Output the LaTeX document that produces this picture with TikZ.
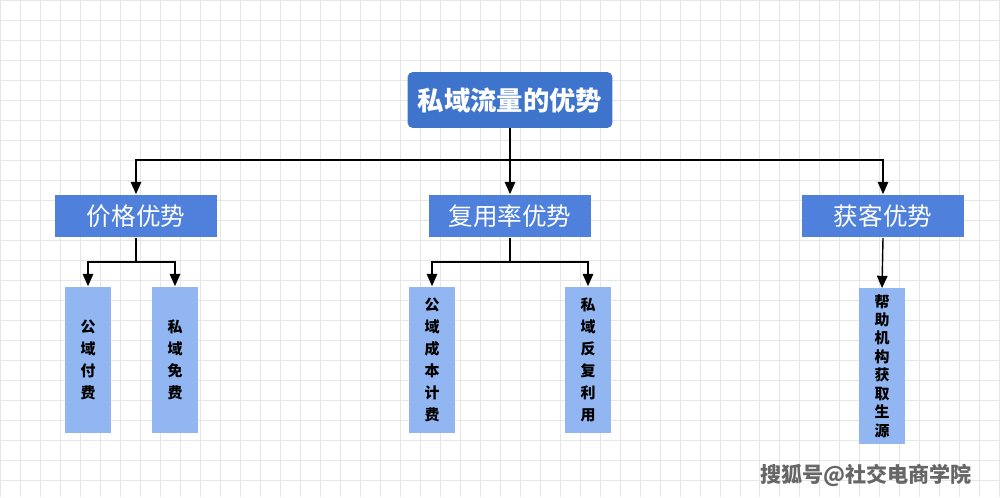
\documentclass[tikz,border=0pt]{standalone}
\usepackage{fontspec}
\setmainfont{Noto Sans CJK SC}
\usetikzlibrary{arrows.meta}
\definecolor{rootblue}{HTML}{3F74CC}
\definecolor{midblue}{HTML}{4F80DC}
\definecolor{leafblue}{HTML}{92B6F2}
\definecolor{gridgray}{HTML}{E6E6E6}
\tikzset{
  rootbox/.style={fill=rootblue, rounded corners=3pt, text=white, font=\bfseries\fontsize{15}{15}\selectfont, minimum width=4.1cm, minimum height=1.12cm},
  midbox/.style={fill=midblue, text=white, font=\fontsize{14}{14}\selectfont, minimum width=3.24cm, minimum height=0.86cm},
  leafbox/.style={fill=leafblue, text=black, font=\bfseries\fontsize{8.5}{12.5}\selectfont, align=center, minimum width=0.92cm, minimum height=2.94cm},
  link/.style={draw, thick, -{Triangle[length=7pt,width=6pt]}}
}
\begin{document}
\begin{tikzpicture}[x=0.02cm,y=-0.02cm]
\useasboundingbox (0,0) rectangle (1000,497);
\draw[gridgray, step=0.4cm] (0,0) grid (1000,497);
% boxes
\node[rootbox] (root) at (510,100) {私域流量的优势};
\node[midbox] (price) at (136,216) {价格优势};
\node[midbox] (reuse) at (510,216) {复用率优势};
\node[midbox] (gain) at (883,216) {获客优势};
\node[leafbox] (pub) at (88,360) {公\\域\\付\\费};
\node[leafbox] (pri) at (175,360) {私\\域\\免\\费};
\node[leafbox] (cost) at (432,360) {公\\域\\成\\本\\计\\费};
\node[leafbox] (rep) at (588,360) {私\\域\\反\\复\\利\\用};
\node[leafbox, minimum height=3.08cm, font=\bfseries\fontsize{8.5}{10.5}\selectfont] (help) at (882,366) {帮\\助\\机\\构\\获\\取\\生\\源};
% connectors
\draw[thick] (root.south) -- (510,160) coordinate (bus);
\draw[link] (bus) -| (price.north);
\draw[link] (bus) -- (reuse.north);
\draw[link] (bus) -| (gain.north);
\draw[thick] (price.south) -- (136,262) coordinate (busa);
\draw[link] (busa) -| (pub.north);
\draw[link] (busa) -| (pri.north);
\draw[thick] (reuse.south) -- (510,262) coordinate (busb);
\draw[link] (busb) -| (cost.north);
\draw[link] (busb) -| (rep.north);
\draw[link] (gain.south) -- (help.north);
\node[text=gray!80!black, font=\bfseries\fontsize{12}{12}\selectfont, anchor=east] (mark) at (978,475) {搜狐号@社交电商学院};
\end{tikzpicture}
\end{document}
